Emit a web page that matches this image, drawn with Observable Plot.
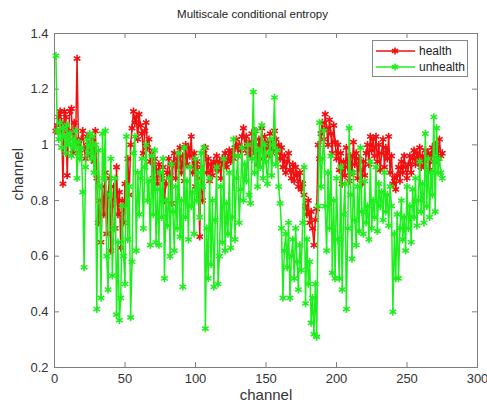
<!DOCTYPE html>
<html><head><meta charset="utf-8">
<script src="https://cdn.jsdelivr.net/npm/d3@7"></script>
<script src="https://cdn.jsdelivr.net/npm/@observablehq/plot@0.6"></script>
<style>
body{margin:0;background:#fff;font-family:"Liberation Sans",Arial,sans-serif;}
#wrap{position:relative;width:487px;height:408px;overflow:hidden;}
#title{box-sizing:border-box;height:22px;padding-top:9px;width:505px;text-align:center;font-size:11.5px;line-height:11px;color:#222;white-space:nowrap;}
#legend{position:absolute;left:372px;top:40px;width:96px;height:37px;box-sizing:border-box;border:1px solid #888;background:#fff;}
</style></head>
<body>
<div id="wrap">
<div id="title"></div>
<div id="chart"></div>
<div id="legend"></div>
</div>
<script>
const titleText = "Multiscale conditional entropy";
const xLabel = "channel";
const yLabel = "channel";
const seriesNames = ["health", "unhealth"];
const seriesColors = ["#f01010", "#1eee1e"];
const xTicks = [0, 50, 100, 150, 200, 250, 300];
const yTicks = [0.2, 0.4, 0.6, 0.8, 1, 1.2, 1.4];

const health = [
1.05,1.07,1.10,1.12,1.08,0.86,1.12,1.10,0.89,1.05,1.12,1.13,0.97,1.08,1.02,1.31,1.00,0.97,1.02,1.05,0.99,0.95,1.03,1.00,0.96,
0.98,1.02,0.94,1.05,0.88,0.72,0.80,0.65,0.85,0.75,0.90,0.68,0.82,0.88,0.62,0.78,0.85,0.70,0.92,0.75,0.83,0.63,0.80,0.72,0.86,
0.79,0.95,0.82,1.00,1.06,1.12,1.08,1.10,1.02,1.11,1.07,1.04,0.97,1.05,1.08,0.99,1.02,0.94,0.97,0.88,0.95,0.91,0.86,0.93,0.90,
0.88,0.92,0.80,0.86,0.90,0.95,0.89,0.79,0.93,0.97,0.88,0.95,0.92,0.99,0.90,0.96,0.87,1.00,0.93,0.99,0.96,1.03,0.90,0.97,0.85,
0.94,0.88,0.67,0.92,0.80,0.97,0.99,0.90,0.95,0.87,0.93,0.89,0.94,0.92,0.96,0.91,0.94,0.88,0.95,0.93,0.97,0.92,0.95,0.98,0.94,
0.97,0.95,0.99,1.02,0.96,1.00,0.98,1.03,1.06,0.99,1.03,0.97,1.01,0.96,1.04,0.98,1.05,1.00,0.93,1.02,0.98,1.06,0.95,1.03,0.99,
1.01,0.96,1.04,1.00,0.98,1.05,1.02,0.97,1.00,0.95,0.99,0.92,0.96,0.90,0.94,0.97,0.91,0.88,0.93,0.87,0.92,0.89,0.85,0.90,0.84,
0.86,0.82,0.78,0.75,0.80,0.72,0.76,0.70,0.64,0.73,0.77,1.00,0.95,1.04,1.08,1.02,1.11,1.06,1.00,1.09,1.04,0.97,1.07,1.01,0.95,
1.00,0.91,0.97,0.86,0.94,0.89,0.99,0.92,0.87,0.96,0.90,1.01,0.93,0.97,0.88,0.95,0.91,0.86,0.94,0.89,0.97,1.00,0.93,1.03,0.98,
1.02,0.96,1.03,0.94,1.00,0.91,0.97,1.02,0.92,0.99,0.95,1.03,0.90,0.96,0.86,0.88,0.84,0.89,0.92,0.87,0.94,0.90,0.96,0.92,0.88,
0.93,0.96,0.90,0.95,0.98,0.93,0.97,0.94,0.99,0.92,0.96,0.93,0.98,0.95,0.97,0.91,0.96,0.99,0.94,1.00,0.97,0.95,1.02,0.96,0.97
];
const unhealth = [
1.32,1.05,1.02,1.08,0.99,1.06,1.03,0.97,1.07,1.00,1.04,0.96,1.02,0.99,1.05,0.88,1.01,0.95,0.99,0.83,0.56,0.92,1.02,0.97,1.04,
0.95,1.03,0.90,1.00,0.41,0.98,0.85,0.45,1.04,0.88,1.05,0.60,0.48,0.82,0.95,0.53,0.70,0.88,0.39,0.65,0.37,0.45,0.78,0.60,0.50,
1.03,0.66,0.85,0.38,0.58,0.97,1.03,0.62,0.90,0.75,0.88,0.95,0.70,0.92,1.00,0.80,0.87,0.64,0.96,0.75,0.98,0.65,0.84,0.64,0.90,
0.74,0.95,0.52,0.80,0.71,0.88,0.60,0.93,0.76,0.62,0.85,0.70,0.97,0.67,0.80,0.49,0.99,0.74,0.87,0.66,0.92,0.78,0.83,0.68,0.95,
0.80,0.90,0.74,0.97,0.85,0.99,0.34,0.70,0.52,0.88,0.57,0.80,0.49,0.73,0.92,0.50,0.60,0.85,0.65,0.95,0.62,0.79,0.68,0.90,0.63,
0.74,1.02,0.66,0.88,0.96,0.72,0.84,0.99,0.80,0.93,0.87,1.00,0.82,0.79,0.95,1.19,0.90,1.05,0.85,0.98,0.92,1.07,0.88,1.00,0.94,
0.86,0.97,1.02,0.89,1.00,1.17,0.93,0.98,0.85,0.79,0.70,0.45,0.62,0.68,0.56,0.72,0.45,0.60,0.66,0.52,0.70,0.58,0.48,0.64,0.55,
0.72,0.92,0.43,0.66,0.50,0.58,0.36,0.45,0.32,0.50,0.31,0.78,1.08,0.85,0.95,1.05,0.78,0.62,0.90,0.70,0.96,0.54,0.80,0.52,0.88,
0.66,0.52,0.92,0.48,0.75,0.86,0.41,0.70,1.06,0.82,0.59,0.90,0.73,0.64,0.85,0.69,0.99,0.76,0.68,0.87,0.72,0.78,0.66,0.94,0.70,
0.80,0.74,0.92,0.69,0.86,0.78,0.83,0.73,0.90,0.76,0.82,0.71,0.85,0.78,0.40,0.68,0.52,0.75,0.52,0.70,0.80,0.66,0.74,0.62,0.85,
0.70,0.78,0.65,0.84,0.74,0.88,0.71,0.80,0.94,0.76,0.86,0.72,1.04,0.78,0.95,0.74,0.90,0.82,1.10,0.76,1.06,0.90,0.95,0.90,0.88
];

document.getElementById("title").textContent = titleText;

const rows = [];
[health, unhealth].forEach((arr, s) => arr.forEach((v, i) => rows.push({series: seriesNames[s], ch: i + 1, v})));

const W = 487, H = 386, mL = 54, mR = 10, mT = 11, mB = 41;
const innerW = W - mL - mR, innerH = H - mT - mB;
const axisColor = "#7f7f7f";
const fmt = d => String(+d.toFixed(1));

const marks = [
  Plot.frame({stroke: axisColor, strokeWidth: 1}),
  Plot.ruleX(xTicks, {x: d => d, stroke: axisColor, insetTop: innerH - 5}),
  Plot.ruleX(xTicks, {x: d => d, stroke: axisColor, insetBottom: innerH - 5}),
  Plot.ruleY(yTicks, {y: d => d, stroke: axisColor, insetRight: innerW - 5}),
  Plot.ruleY(yTicks, {y: d => d, stroke: axisColor, insetLeft: innerW - 5}),
  Plot.axisX({ticks: xTicks, tickSize: 0, tickPadding: 6, label: null, fontSize: 13, color: "#333"}),
  Plot.axisY({ticks: yTicks, tickSize: 0, tickPadding: 6, label: null, fontSize: 13, tickFormat: fmt, color: "#333"}),
  Plot.text([xLabel], {frameAnchor: "bottom", dy: 32, fontSize: 15, fill: "#333", text: d => d}),
  Plot.text([yLabel], {frameAnchor: "left", dx: -36, rotate: -90, fontSize: 15, fill: "#333", text: d => d})
];
seriesNames.forEach((name, s) => {
  const data = rows.filter(r => r.series === name);
  marks.push(Plot.line(data, {x: "ch", y: "v", stroke: seriesColors[s], strokeWidth: 1.5}));
  marks.push(Plot.dot(data, {x: "ch", y: "v", symbol: "asterisk", r: 3.6, stroke: seriesColors[s], strokeWidth: 1.6}));
});

const chart = Plot.plot({
  width: W, height: H,
  marginLeft: mL, marginRight: mR, marginTop: mT, marginBottom: mB,
  style: {fontFamily: '"Liberation Sans", Arial, sans-serif', background: "#fff", overflow: "visible"},
  x: {domain: [0, 300], axis: null},
  y: {domain: [0.2, 1.4], axis: null},
  marks
});
document.getElementById("chart").appendChild(chart);

// legend
const leg = d3.select("#legend").append("svg").attr("width", 94).attr("height", 35);
seriesNames.forEach((name, s) => {
  const cy = 10 + s * 16;
  leg.append("line").attr("x1", 3).attr("x2", 42).attr("y1", cy).attr("y2", cy)
    .attr("stroke", seriesColors[s]).attr("stroke-width", 1.5);
  leg.append("path").attr("d", d3.symbol(d3.symbolAsterisk, 36)()).attr("transform", `translate(22,${cy})`)
    .attr("stroke", seriesColors[s]).attr("fill", "none").attr("stroke-width", 1.6);
  leg.append("text").attr("x", 46).attr("y", cy).attr("dy", "0.35em").attr("font-size", 12)
    .attr("fill", "#222").attr("font-family", '"Liberation Sans", Arial, sans-serif').text(name);
});
</script>
</body></html>
